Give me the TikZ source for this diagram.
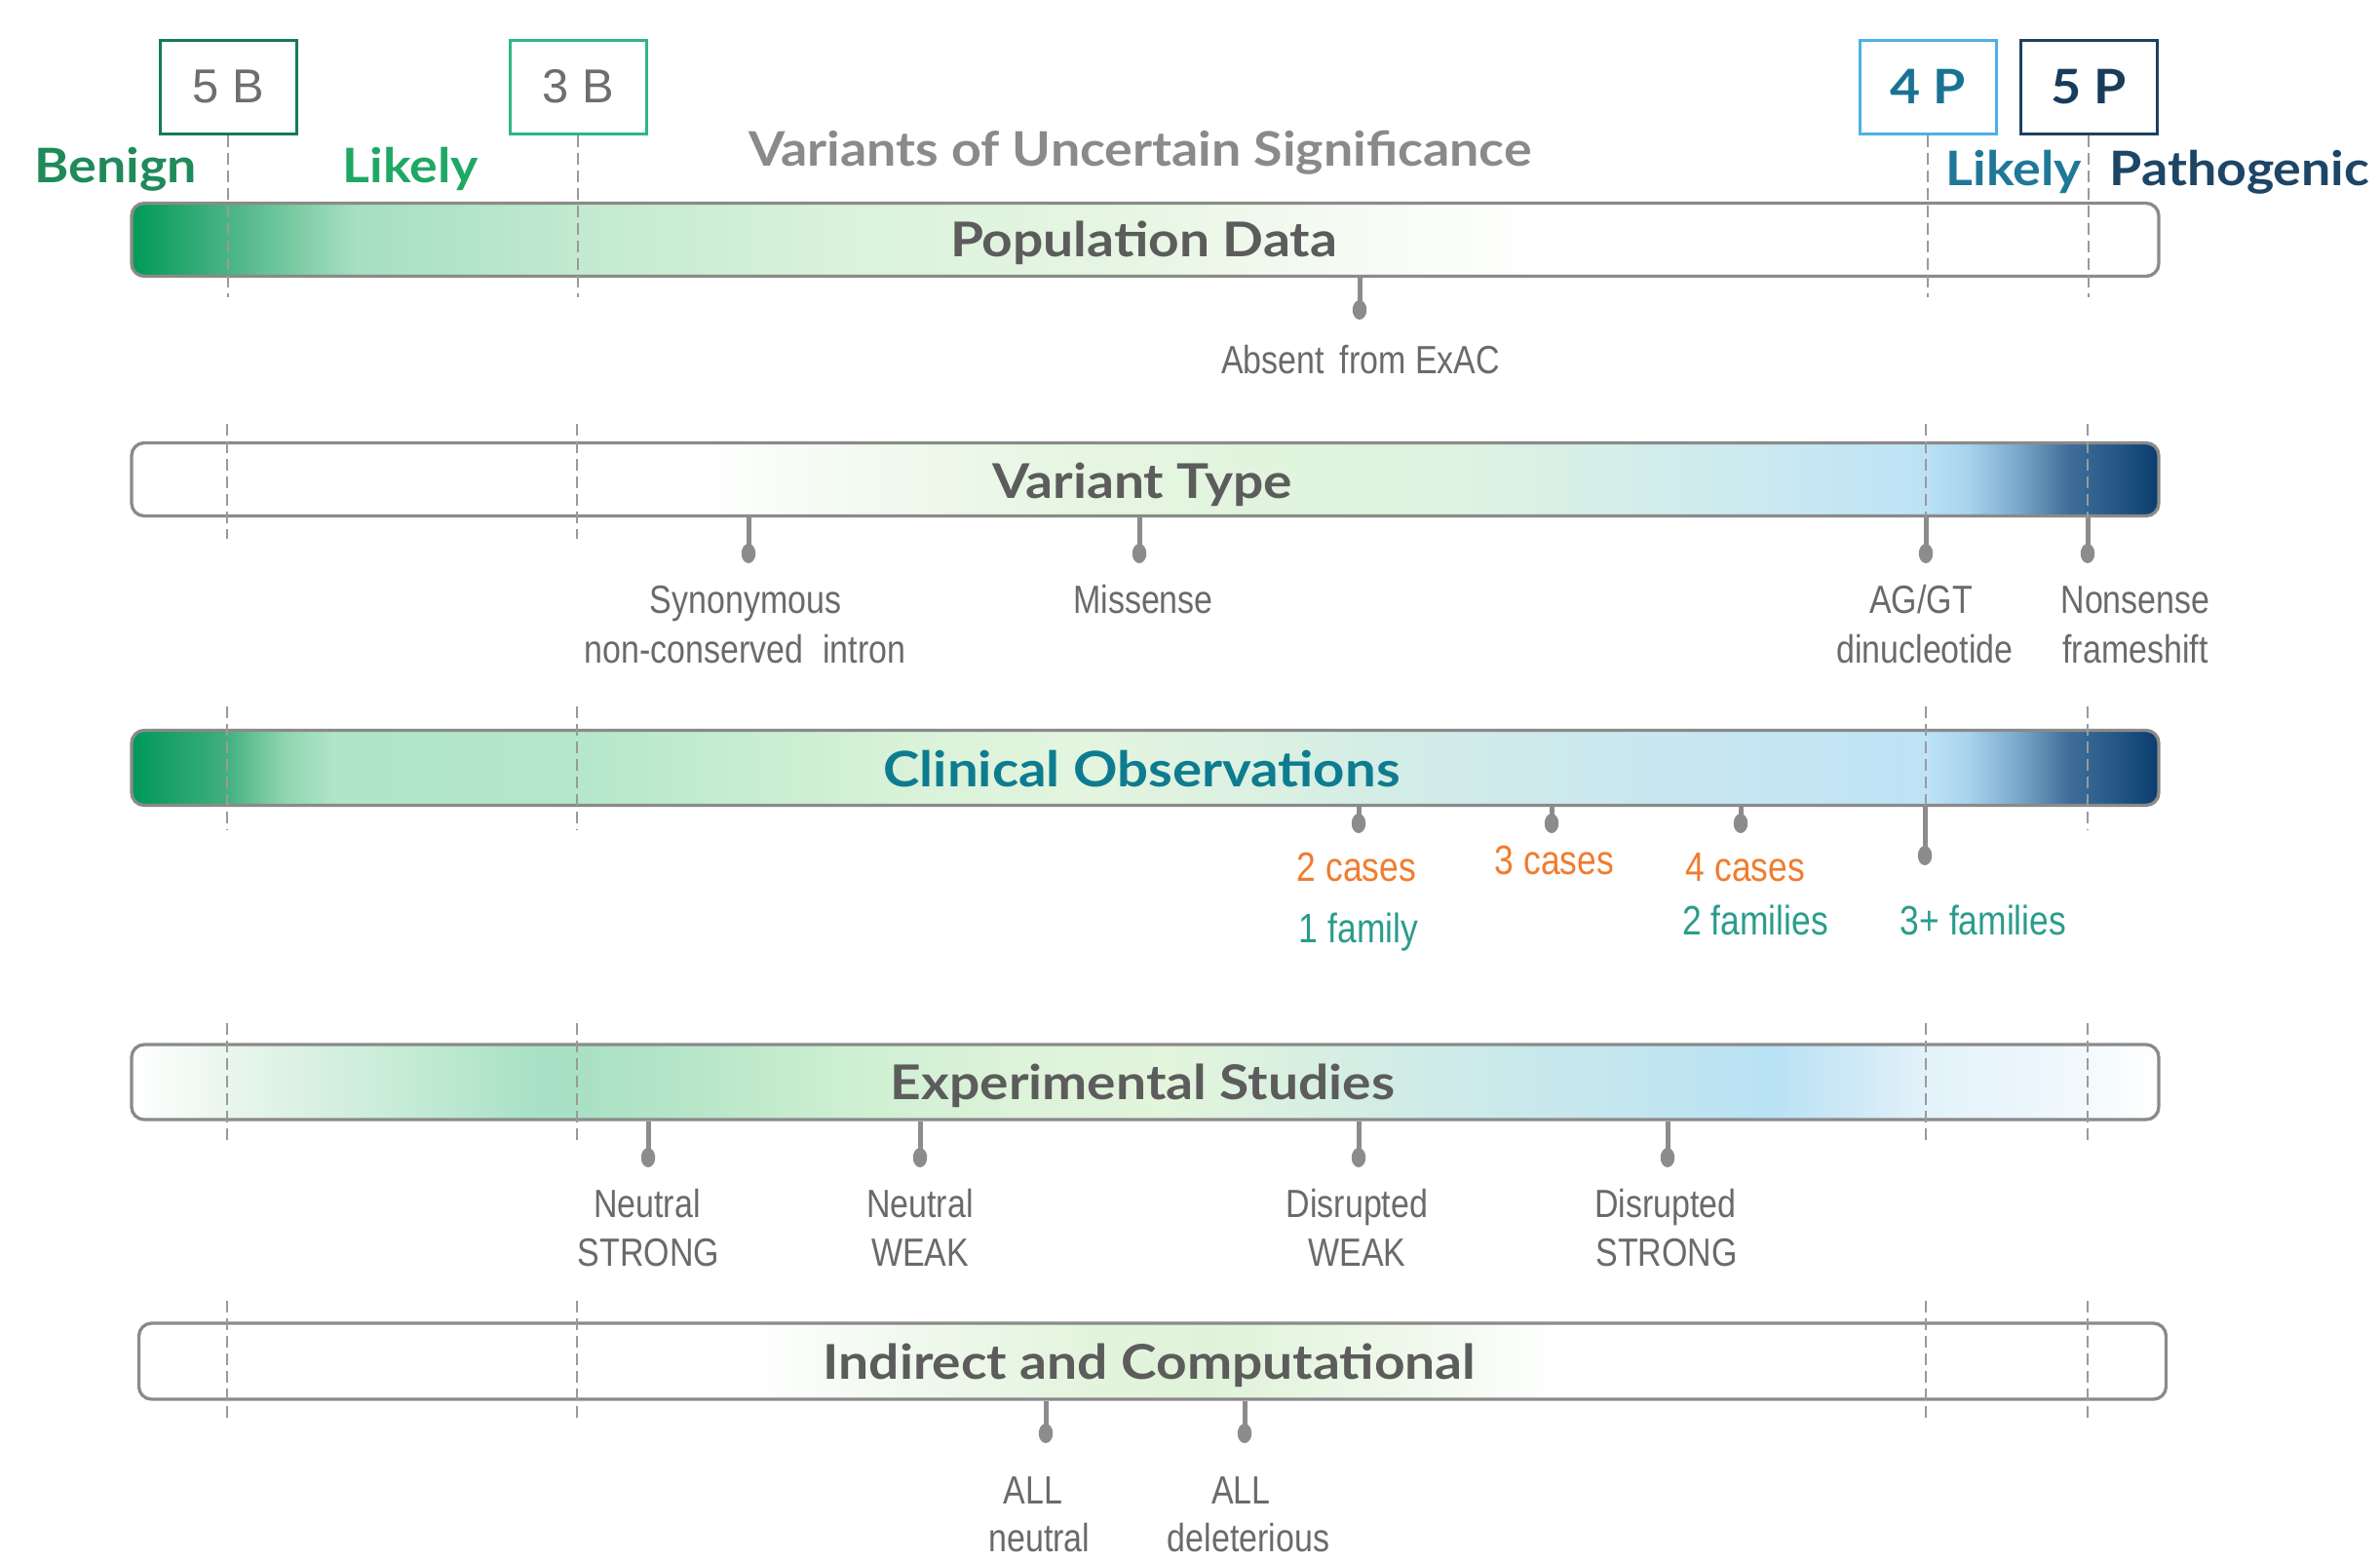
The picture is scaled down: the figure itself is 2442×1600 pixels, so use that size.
\documentclass[tikz,border=0pt]{standalone}
\usepackage{fontspec}
\setmainfont{Liberation Sans}
\newfontfamily\titlefont[FakeStretch=1.1]{Lato}
\newfontfamily\barfont[FakeStretch=1.12]{Lato}
\newfontfamily\narrowfont[FakeStretch=0.84]{Liberation Sans}
\usetikzlibrary{shapes.geometric}
\definecolor{benigngreen}{HTML}{1F8A5A}
\definecolor{likelygreen}{HTML}{1FA865}
\definecolor{box5b}{HTML}{137D52}
\definecolor{box3b}{HTML}{2DB882}
\definecolor{box4p}{HTML}{4DB0E8}
\definecolor{text4p}{HTML}{1A7394}
\definecolor{likelyblue}{HTML}{1E7898}
\definecolor{box5p}{HTML}{1E4060}
\definecolor{text5p}{HTML}{173C5C}
\definecolor{pathoblue}{HTML}{1D4566}
\definecolor{vusgray}{HTML}{8A8A8A}
\definecolor{boxtextgray}{HTML}{6E6E6E}
\definecolor{titlegray}{HTML}{5C5C5C}
\definecolor{clinteal}{HTML}{0E7C90}
\definecolor{caseorange}{HTML}{F07C2F}
\definecolor{famteal}{HTML}{2A9C8C}
\definecolor{lblgray}{HTML}{6A6A6A}
\definecolor{barline}{HTML}{8A8A8A}
\definecolor{tickgray}{HTML}{8C8C8C}
\definecolor{dashgray}{HTML}{9A9A9A}
% population
\definecolor{popA}{HTML}{009A58}
\definecolor{popB}{HTML}{45B282}
\definecolor{popC}{HTML}{7ACBA3}
\definecolor{popD}{HTML}{A6DFC2}
\definecolor{popE}{HTML}{C2EAD0}
\definecolor{popF}{HTML}{DAF2DC}
\definecolor{popG}{HTML}{E8F6E4}
\definecolor{popH}{HTML}{F6FBF4}
% variant / blue end
\definecolor{vtA}{HTML}{F2FAF0}
\definecolor{vtB}{HTML}{E8F6E4}
\definecolor{vtC}{HTML}{E2F4DE}
\definecolor{vtD}{HTML}{DFF3E0}
\definecolor{vtE}{HTML}{D6EFE8}
\definecolor{vtF}{HTML}{CBE9F0}
\definecolor{vtG}{HTML}{BEE3F7}
\definecolor{vtH}{HTML}{A9D4EE}
\definecolor{vtI}{HTML}{7AAACB}
\definecolor{vtJ}{HTML}{3F6F99}
\definecolor{vtK}{HTML}{2A5B88}
\definecolor{vtL}{HTML}{0A3D6E}
% clinical
\definecolor{coA}{HTML}{00985A}
\definecolor{coB}{HTML}{3EAE7C}
\definecolor{coC}{HTML}{8ED5AF}
\definecolor{coD}{HTML}{B0E5C8}
\definecolor{coE}{HTML}{B5E7CA}
\definecolor{coF}{HTML}{C6EDD1}
\definecolor{coG}{HTML}{D8F2D8}
\definecolor{coH}{HTML}{E4F5DF}
\definecolor{coI}{HTML}{DCF1E2}
\definecolor{coJ}{HTML}{D3EDE6}
\definecolor{coK}{HTML}{CBE8EE}
\definecolor{coL}{HTML}{C4E5F3}
% experimental
\definecolor{exA}{HTML}{EAF6EE}
\definecolor{exB}{HTML}{D7F0E0}
\definecolor{exC}{HTML}{C3EBD4}
\definecolor{exD}{HTML}{A8E1C5}
\definecolor{exE}{HTML}{A9E1C5}
\definecolor{exF}{HTML}{B8E6C9}
\definecolor{exG}{HTML}{CDEFD2}
\definecolor{exH}{HTML}{DDF3DA}
\definecolor{exI}{HTML}{E3F5DC}
\definecolor{exJ}{HTML}{D8EFE2}
\definecolor{exK}{HTML}{CCEAEA}
\definecolor{exL}{HTML}{C3E6EF}
\definecolor{exM}{HTML}{B9E2F5}
\definecolor{exN}{HTML}{CFE9F6}
\definecolor{exO}{HTML}{E3F2FA}
\definecolor{exP}{HTML}{EEF7FC}
% indirect
\definecolor{inA}{HTML}{F0F9EE}
\definecolor{inB}{HTML}{E3F4DD}
\definecolor{inC}{HTML}{E0F3DA}
\definecolor{inD}{HTML}{EEF8EA}

\pgfdeclarehorizontalshading{popshade}{100bp}{color(0bp)=(popA); color(25bp)=(popA); color(27.25bp)=(popB); color(29bp)=(popC); color(30.5bp)=(popD); color(36bp)=(popE); color(42.5bp)=(popF); color(50bp)=(popG); color(55bp)=(popH); color(60bp)=(white); color(100bp)=(white)}
\pgfdeclarehorizontalshading{varshade}{100bp}{color(0bp)=(white); color(39bp)=(white); color(43bp)=(vtA); color(47.5bp)=(vtB); color(52.5bp)=(vtC); color(57.5bp)=(vtD); color(61bp)=(vtE); color(65bp)=(vtF); color(69bp)=(vtG); color(70.25bp)=(vtH); color(71.5bp)=(vtI); color(72.75bp)=(vtJ); color(73.75bp)=(vtK); color(75bp)=(vtL); color(100bp)=(vtL)}
\pgfdeclarehorizontalshading{clinshade}{100bp}{color(0bp)=(coA); color(25bp)=(coA); color(27.25bp)=(coB); color(28.75bp)=(coC); color(30bp)=(coD); color(36bp)=(coE); color(40bp)=(coF); color(44bp)=(coG); color(48.5bp)=(coH); color(52.5bp)=(coI); color(56bp)=(coJ); color(61bp)=(coK); color(66bp)=(coL); color(69.25bp)=(vtG); color(70.25bp)=(vtH); color(71.5bp)=(vtI); color(72.75bp)=(vtJ); color(73.75bp)=(vtK); color(75bp)=(vtL); color(100bp)=(vtL)}
\pgfdeclarehorizontalshading{expshade}{100bp}{color(0bp)=(white); color(25bp)=(white); color(27.3bp)=(exA); color(29.7bp)=(exB); color(32bp)=(exC); color(35bp)=(exD); color(36bp)=(exE); color(39bp)=(exF); color(42.5bp)=(exG); color(47bp)=(exH); color(50.5bp)=(exI); color(54bp)=(exJ); color(58bp)=(exK); color(62bp)=(exL); color(65.5bp)=(exM); color(67.5bp)=(exN); color(69.25bp)=(exO); color(72.5bp)=(exP); color(75bp)=(white); color(100bp)=(white)}
\pgfdeclarehorizontalshading{indshade}{100bp}{color(0bp)=(white); color(40bp)=(white); color(44bp)=(inA); color(48.5bp)=(inB); color(51.5bp)=(inC); color(56bp)=(inD); color(60bp)=(white); color(100bp)=(white)}

\tikzset{
  bar/.style={draw=barline, line width=0.33mm, rounded corners=1.3mm, minimum width=208mm, minimum height=7.5mm, inner sep=0pt},
  bartitle/.style={font=\barfont\bfseries\fontsize{14}{16}\selectfont, text=titlegray, anchor=base, inner sep=0pt},
  toptitle/.style={font=\titlefont\bfseries\fontsize{13.9}{16}\selectfont, anchor=base west, inner sep=0pt},
  lbl/.style={font=\narrowfont\fontsize{11.5}{13}\selectfont, text=lblgray, anchor=base, inner sep=0pt},
  clbl/.style={font=\narrowfont\fontsize{12}{14}\selectfont, anchor=base, inner sep=0pt},
  dotnode/.style={ellipse, fill=tickgray, minimum width=1.45mm, minimum height=2mm, inner sep=0pt},
  tickline/.style={draw=tickgray, line width=0.5mm},
  vline/.style={draw=dashgray, line width=0.2mm, dash pattern=on 1.2mm off 0.6mm},
  scorebox/.style={draw, line width=0.3mm, minimum width=14mm, minimum height=9.6mm, inner sep=0pt, fill=white},
}

\begin{document}
\begin{tikzpicture}[x=0.1mm,y=-0.1mm]
\useasboundingbox (0,0) rectangle (2442,1600);

% ---- bars ----
\node[bar, shading=popshade] (popbar) at (1175,246) {};
\node[bar, shading=varshade] (varbar) at (1175,492) {};
\node[bar, shading=clinshade, minimum height=7.7mm] (clinbar) at (1175,788) {};
\node[bar, shading=expshade, minimum height=7.7mm] (expbar) at (1175,1110.5) {};
\node[bar, shading=indshade, minimum height=7.8mm] (indbar) at (1182.5,1397) {};

% ---- score boxes ----
\node[scorebox, draw=box5b, text=boxtextgray, font=\fontsize{13.9}{16}\selectfont] (b5) at (234,89) {5 B};
\node[scorebox, draw=box3b, text=boxtextgray, font=\fontsize{13.9}{16}\selectfont] (b3) at (593,89) {3 B};
\node[scorebox, draw=box4p, text=text4p, font=\titlefont\bfseries\fontsize{13.9}{16}\selectfont] (p4) at (1978,89) {4 P};
\node[scorebox, draw=box5p, text=text5p, font=\titlefont\bfseries\fontsize{13.9}{16}\selectfont] (p5) at (2143,89) {5 P};

% ---- dashed guide lines ----
\foreach \bx in {b5,b3,p4,p5} {
  \draw[vline] (\bx.south) -- ++(0,166);
}
\foreach \xx in {233,592,1976,2142} {
  \draw[vline] (\xx,435) -- (\xx,553);
  \draw[vline] (\xx,725) -- (\xx,852);
  \draw[vline] (\xx,1050) -- (\xx,1173);
  \draw[vline] (\xx,1335) -- (\xx,1458);
}

% ---- category titles ----
\node[toptitle, text=benigngreen] (benign) at (35,187) {Benign};
\node[toptitle, text=likelygreen] (likelyb) at (351,187) {Likely};
\node[toptitle, text=vusgray, anchor=base] (vus) at (1170,170) {Variants of Uncertain Significance};
\node[toptitle, text=likelyblue] (likelyp) at (1996,190) {Likely};
\node[toptitle, text=pathoblue] (patho) at (2164,190) {Pathogenic};

% ---- bar titles ----
\node[bartitle] (poptitle) at (1173.5,263) {Population Data};
\node[bartitle] (vartitle) at (1172,511) {Variant Type};
\node[bartitle, text=clinteal, font=\barfont\bfseries\fontsize{14.3}{16}\selectfont] (clintitle) at (1171.5,807) {Clinical Observations};
\node[bartitle] (exptitle) at (1172.5,1128) {Experimental Studies};
\node[bartitle] (indtitle) at (1179.5,1415) {Indirect and Computational};

% ---- population ----
\node[dotnode] (dabs) at (1395,318) {};
\draw[tickline] (dabs.center) -- (dabs.center |- popbar.south);
\node[lbl] (labs) at (1396,383) {Absent\, from ExAC};

% ---- variant type ----
\node[dotnode] (dsyn) at (768,568) {};
\node[dotnode] (dmis) at (1169,568) {};
\node[dotnode] (dag) at (1976,568) {};
\node[dotnode] (dnon) at (2142,568) {};
\foreach \d in {dsyn,dmis,dag,dnon} {
  \draw[tickline] (\d.center) -- (\d.center |- varbar.south);
}
\node[lbl] (lsyn1) at (765,629) {Synonymous};
\node[lbl] (lsyn2) at (764.5,680) {non-conserved\enspace intron};
\node[lbl] (lmis) at (1173,629) {Missense};
\node[lbl] (lag1) at (1971,629) {AG/GT};
\node[lbl] (lag2) at (1975,680) {dinucleotide};
\node[lbl] (lnon1) at (2191,629) {Nonsense};
\node[lbl] (lnon2) at (2191,680) {frameshift};

% ---- clinical ----
\node[dotnode] (dc2) at (1394,845) {};
\node[dotnode] (dc3) at (1592,845) {};
\node[dotnode] (dc4) at (1786,845) {};
\node[dotnode] (dc5) at (1975,878) {};
\foreach \d in {dc2,dc3,dc4,dc5} {
  \draw[tickline] (\d.center) -- (\d.center |- clinbar.south);
}
\node[clbl, text=caseorange] (lc2) at (1392,904) {2 cases};
\node[clbl, text=famteal] (lf1) at (1394,967) {1 family};
\node[clbl, text=caseorange] (lc3) at (1595,897) {3 cases};
\node[clbl, text=caseorange] (lc4) at (1791,904) {4 cases};
\node[clbl, text=famteal] (lf2) at (1801,959) {2 families};
\node[clbl, text=famteal] (lf3) at (2035,959) {3+ families};

% ---- experimental ----
\node[dotnode] (dns) at (665,1188) {};
\node[dotnode] (dnw) at (944,1188) {};
\node[dotnode] (ddw) at (1394,1188) {};
\node[dotnode] (dds) at (1711,1188) {};
\foreach \d in {dns,dnw,ddw,dds} {
  \draw[tickline] (\d.center) -- (\d.center |- expbar.south);
}
\node[lbl] (lns1) at (664,1249) {Neutral};
\node[lbl] (lns2) at (665.5,1299) {STRONG};
\node[lbl] (lnw1) at (944,1249) {Neutral};
\node[lbl] (lnw2) at (944,1299) {WEAK};
\node[lbl] (ldw1) at (1392.5,1249) {Disrupted};
\node[lbl] (ldw2) at (1392.5,1299) {WEAK};
\node[lbl] (lds1) at (1709,1249) {Disrupted};
\node[lbl] (lds2) at (1710,1299) {STRONG};

% ---- indirect ----
\node[dotnode] (dan) at (1073,1471) {};
\node[dotnode] (dad) at (1277,1471) {};
\foreach \d in {dan,dad} {
  \draw[tickline] (\d.center) -- (\d.center |- indbar.south);
}
\node[lbl] (lan1) at (1060,1543) {ALL};
\node[lbl] (lan2) at (1066.5,1592) {neutral};
\node[lbl] (lad1) at (1273.5,1543) {ALL};
\node[lbl] (lad2) at (1281,1592) {deleterious};
\end{tikzpicture}
\end{document}
